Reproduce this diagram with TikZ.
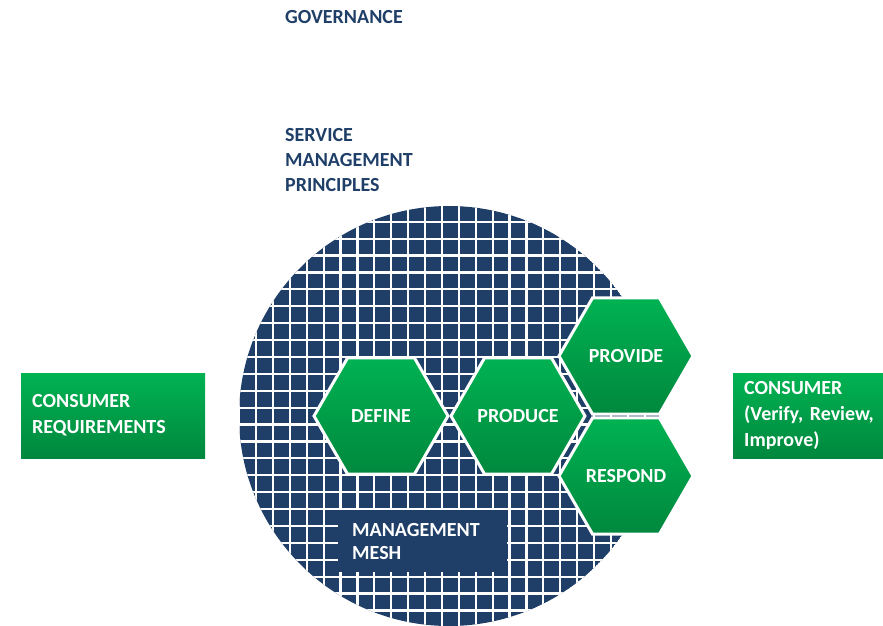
\documentclass[tikz,border=0pt]{standalone}
\usepackage{fontspec}
\setmainfont{Carlito}
\usepackage{xcolor}
\usepackage{tikz}
\usetikzlibrary{shapes.geometric}

\definecolor{meshblue}{RGB}{31,63,104}
\definecolor{greenlight}{RGB}{0,178,82}
\definecolor{greendark}{RGB}{0,136,62}

\begin{document}
\begin{tikzpicture}[x=1pt, y=-1pt,
    hexbox/.style={regular polygon, regular polygon sides=6, minimum size=134pt, inner sep=0pt, draw=white, line width=3pt, top color=greenlight, bottom color=greendark, text=white, font=\bfseries\fontsize{20}{24}\selectfont},
    sidebox/.style={rectangle, minimum height=85pt, inner xsep=11pt, align=left, top color=greenlight, bottom color=greendark, text=white, font=\bfseries\fontsize{20}{26}\selectfont},
    heading/.style={inner sep=0pt, align=left, text=meshblue, font=\bfseries\fontsize{20}{25}\selectfont},
    meshline/.style={white, line width=2.2pt}]
    \useasboundingbox (0,0) rectangle (883,626);

    % the mesh disc
    \coordinate (hub) at (449,416);
    \begin{scope}
        \clip (hub) circle (210);
        \fill[meshblue] (hub) circle (210);
        \foreach \k in {-1,...,24} {
            \draw[meshline] (256+16.9*\k,200) -- (256+16.9*\k,630);
            \draw[meshline] (230,221.7+16.9*\k) -- (665,221.7+16.9*\k);
        }
    \end{scope}

    \node[fill=meshblue, minimum width=169pt, minimum height=62pt, inner xsep=14pt, text width=141pt, align=left, anchor=north west, text=white, font=\bfseries\fontsize{20}{23}\selectfont] (meshlabel) at (338,510) {MANAGEMENT\\MESH};

    % value chain
    \node[hexbox] (define) at (381,416) {DEFINE};
    \node[hexbox] (produce) at (518,416) {PRODUCE};
    \node[hexbox] (provide) at (626,356) {PROVIDE};
    \node[hexbox] (respond) at (626,476) {RESPOND};

    \node[sidebox, text width=162pt, anchor=west] (needs) at (21,415.5) {CONSUMER\\REQUIREMENTS};
    \node[sidebox, text width=150pt, anchor=west] (consumer) at (733,415.5) {CONSUMER\\(Verify, Review,\\Improve)};

    \node[heading, anchor=north west] (governance) at (285,10) {GOVERNANCE};
    \node[heading, anchor=north west] (principles) at (285,128) {SERVICE\\MANAGEMENT\\PRINCIPLES};
\end{tikzpicture}
\end{document}
